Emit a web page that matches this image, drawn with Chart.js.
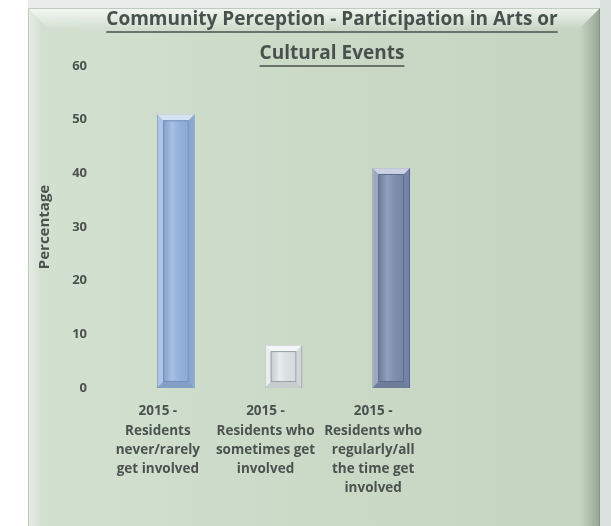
<!DOCTYPE html>
<html>
<head>
<meta charset="utf-8">
<script src="https://cdn.jsdelivr.net/npm/chart.js@4"></script>
<style>
  html, body { margin: 0; padding: 0; background: #ffffff; }
  #wrap { width: 611px; height: 526px; }
</style>
</head>
<body>
<div id="wrap"><canvas id="chart" width="611" height="526"></canvas></div>
<script>
// chart data
const categories = [
  ["2015 -", "Residents", "never/rarely", "get involved"],
  ["2015 -", "Residents who", "sometimes get", "involved"],
  ["2015 -", "Residents who", "regularly/all", "the time get", "involved"]
];
const percentages = [51, 8, 41];
const barColors = ["#95b7e1", "#e3e9eb", "#7f8fb3"];
const barEdges = ["#6f90bd", "#9aa3a6", "#5d6b8e"];
const titleLines = ["Community Perception - Participation in Arts or", "Cultural Events"];
const yTicks = [0, 10, 20, 30, 40, 50, 60];

const FONT = "'Open Sans', Lato, sans-serif";
const TEXT = "#4b524f";

// panel background with bevelled edges + underlined title
const panelPlugin = {
  id: "panel",
  beforeDraw(chart) {
    const ctx = chart.ctx;
    const W = chart.width, H = chart.height;
    const L = 28, T = 8, R = 600, B = H;
    ctx.save();
    ctx.fillStyle = "#ffffff";
    ctx.fillRect(0, 0, W, H);
    ctx.fillStyle = "#e9eeec";
    ctx.fillRect(L, 0, W - L, T);
    ctx.fillStyle = "#dae1de";
    ctx.fillRect(R, 0, W - R, H);

    // panel face
    let g = ctx.createLinearGradient(L, 0, R, 0);
    g.addColorStop(0, "#d3e1d1");
    g.addColorStop(0.5, "#cadac7");
    g.addColorStop(1, "#c4d4c1");
    ctx.fillStyle = g;
    ctx.fillRect(L, T, R - L, B - T);

    const bv = 22;
    // top bevel
    g = ctx.createLinearGradient(0, T, 0, T + bv);
    g.addColorStop(0, "rgba(255,255,255,0.75)");
    g.addColorStop(1, "rgba(255,255,255,0)");
    ctx.fillStyle = g;
    ctx.beginPath();
    ctx.moveTo(L, T); ctx.lineTo(R, T); ctx.lineTo(R - bv, T + bv); ctx.lineTo(L + bv, T + bv); ctx.closePath();
    ctx.fill();
    // left bevel
    g = ctx.createLinearGradient(L, 0, L + 14, 0);
    g.addColorStop(0, "rgba(255,255,255,0.45)");
    g.addColorStop(1, "rgba(255,255,255,0)");
    ctx.fillStyle = g;
    ctx.beginPath();
    ctx.moveTo(L, T); ctx.lineTo(L + 14, T + 14); ctx.lineTo(L + 14, B); ctx.lineTo(L, B); ctx.closePath();
    ctx.fill();
    // right bevel
    g = ctx.createLinearGradient(R - 20, 0, R, 0);
    g.addColorStop(0, "rgba(90,110,90,0)");
    g.addColorStop(1, "rgba(90,110,90,0.45)");
    ctx.fillStyle = g;
    ctx.beginPath();
    ctx.moveTo(R, T); ctx.lineTo(R - 20, T + 20); ctx.lineTo(R - 20, B); ctx.lineTo(R, B); ctx.closePath();
    ctx.fill();
    ctx.strokeStyle = "rgba(120,140,120,0.6)";
    ctx.lineWidth = 1;
    ctx.beginPath();
    ctx.moveTo(R - 0.5, T); ctx.lineTo(R - 0.5, B);
    ctx.stroke();
    ctx.strokeStyle = "rgba(170,185,170,0.7)";
    ctx.beginPath();
    ctx.moveTo(L + 0.5, B); ctx.lineTo(L + 0.5, T + 0.5); ctx.lineTo(R, T + 0.5);
    ctx.stroke();
    ctx.restore();
  },
  afterDraw(chart) {
    const ctx = chart.ctx;
    ctx.save();
    ctx.font = "bold 19px " + FONT;
    ctx.fillStyle = "#48514d";
    ctx.strokeStyle = "#48514d";
    ctx.lineWidth = 1.3;
    ctx.textAlign = "center";
    ctx.textBaseline = "middle";
    const cx = 332;
    const ys = [20, 54];
    titleLines.forEach((line, i) => {
      ctx.fillText(line, cx, ys[i]);
      const w = ctx.measureText(line).width;
      ctx.beginPath();
      ctx.moveTo(cx - w / 2, ys[i] + 12);
      ctx.lineTo(cx + w / 2, ys[i] + 12);
      ctx.stroke();
    });
    ctx.restore();
  }
};

// bevel on the bars, uses the bar elements laid out by chart.js
const bevelPlugin = {
  id: "bevel",
  afterDatasetsDraw(chart) {
    const ctx = chart.ctx;
    const meta = chart.getDatasetMeta(0);
    ctx.save();
    meta.data.forEach((el, i) => {
      const p = el.getProps(["x", "y", "base", "width"], true);
      const left = p.x - p.width / 2, right = p.x + p.width / 2;
      const top = p.y, bottom = p.base;
      const b = 6;
      // top
      ctx.fillStyle = "rgba(255,255,255,0.6)";
      ctx.beginPath();
      ctx.moveTo(left, top); ctx.lineTo(right, top); ctx.lineTo(right - b, top + b); ctx.lineTo(left + b, top + b); ctx.closePath();
      ctx.fill();
      // left
      ctx.fillStyle = "rgba(255,255,255,0.22)";
      ctx.beginPath();
      ctx.moveTo(left, top); ctx.lineTo(left + b, top + b); ctx.lineTo(left + b, bottom - b); ctx.lineTo(left, bottom); ctx.closePath();
      ctx.fill();
      // right
      ctx.fillStyle = "rgba(0,0,0,0.08)";
      ctx.beginPath();
      ctx.moveTo(right, top); ctx.lineTo(right - b, top + b); ctx.lineTo(right - b, bottom - b); ctx.lineTo(right, bottom); ctx.closePath();
      ctx.fill();
      // bottom
      ctx.fillStyle = "rgba(0,0,0,0.12)";
      ctx.beginPath();
      ctx.moveTo(left, bottom); ctx.lineTo(left + b, bottom - b); ctx.lineTo(right - b, bottom - b); ctx.lineTo(right, bottom); ctx.closePath();
      ctx.fill();
      // inner column
      const g = ctx.createLinearGradient(left + b, 0, right - b, 0);
      g.addColorStop(0, "rgba(0,0,0,0.12)");
      g.addColorStop(0.35, "rgba(255,255,255,0.15)");
      g.addColorStop(1, "rgba(0,0,0,0.05)");
      ctx.fillStyle = g;
      ctx.fillRect(left + b, top + b, right - left - 2 * b, bottom - top - 2 * b);
      ctx.strokeStyle = barEdges[i];
      ctx.lineWidth = 1;
      ctx.strokeRect(left + b + 0.5, top + b + 0.5, right - left - 2 * b - 1, bottom - top - 2 * b - 1);
    });
    ctx.restore();
  }
};

new Chart(document.getElementById("chart"), {
  type: "bar",
  data: {
    labels: categories,
    datasets: [{
      label: "Percentage",
      data: percentages,
      backgroundColor: barColors,
      borderColor: barEdges,
      borderWidth: 1,
      barPercentage: 0.35,
      categoryPercentage: 1
    }]
  },
  options: {
    responsive: false,
    animation: false,
    layout: { padding: { left: 36, right: 166, top: 66, bottom: 0 } },
    plugins: {
      legend: { display: false },
      tooltip: { enabled: false },
      title: { display: false }
    },
    scales: {
      x: {
        grid: { display: false, drawTicks: false },
        border: { display: false },
        ticks: {
          color: TEXT,
          font: { family: FONT, size: 13.5, weight: "bold", lineHeight: 1.42 },
          padding: 14,
          labelOffset: -18,
          maxRotation: 0,
          autoSkip: false
        },
        afterFit(scale) { scale.height = 138; }
      },
      y: {
        min: yTicks[0],
        max: yTicks[yTicks.length - 1],
        grid: { display: false, drawTicks: false },
        border: { display: false },
        ticks: {
          stepSize: yTicks[1] - yTicks[0],
          color: TEXT,
          font: { family: FONT, size: 13, weight: "bold" },
          padding: 35
        },
        title: {
          display: true,
          text: "Percentage",
          color: TEXT,
          font: { family: FONT, size: 15, weight: "bold" },
          padding: { top: 0, bottom: 2 }
        },
        afterFit(scale) { scale.width = 86; }
      }
    }
  },
  plugins: [panelPlugin, bevelPlugin]
});
</script>
</body>
</html>
